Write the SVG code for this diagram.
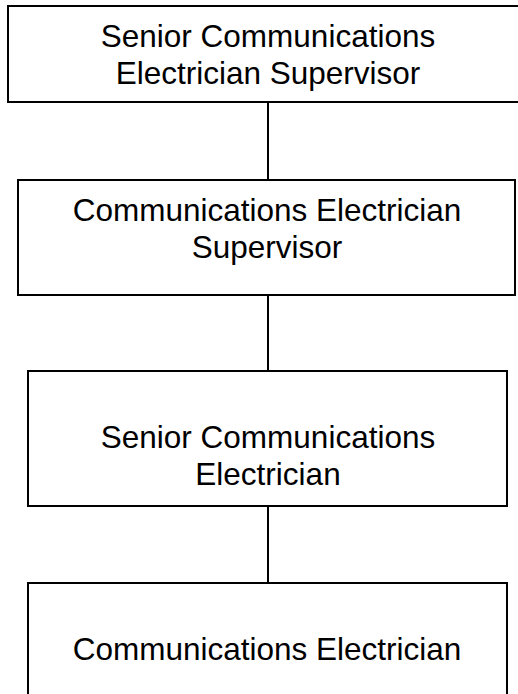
<svg xmlns="http://www.w3.org/2000/svg" width="518" height="694" viewBox="0 0 518 694">
  <style>
    .box { fill: #ffffff; stroke: #000000; stroke-width: 2; }
    .link { stroke: #000000; stroke-width: 2; fill: none; }
    .label { font-family: "Liberation Sans", Arial, sans-serif; font-size: 31.5px; fill: #000000; text-anchor: middle; }
  </style>
  <rect x="0" y="0" width="518" height="694" fill="#ffffff"/>

  <!-- reporting lines -->
  <g id="connectors">
    <line class="link" x1="268" y1="102" x2="268" y2="180"/>
    <line class="link" x1="268" y1="295" x2="268" y2="371"/>
    <line class="link" x1="268" y1="506" x2="268" y2="583"/>
  </g>

  <g id="senior-supervisor">
    <rect class="box" x="8" y="6" width="520" height="96"/>
    <text class="label" x="268" y="47">Senior Communications</text>
    <text class="label" x="268" y="84">Electrician Supervisor</text>
  </g>

  <g id="supervisor">
    <rect class="box" x="18" y="180" width="497" height="115"/>
    <text class="label" x="267" y="221">Communications Electrician</text>
    <text class="label" x="267" y="258">Supervisor</text>
  </g>

  <g id="senior-electrician">
    <rect class="box" x="28" y="371" width="479" height="135"/>
    <text class="label" x="268" y="448">Senior Communications</text>
    <text class="label" x="268" y="485">Electrician</text>
  </g>

  <g id="electrician">
    <rect class="box" x="28" y="583" width="479" height="130"/>
    <text class="label" x="267" y="660">Communications Electrician</text>
  </g>
</svg>
